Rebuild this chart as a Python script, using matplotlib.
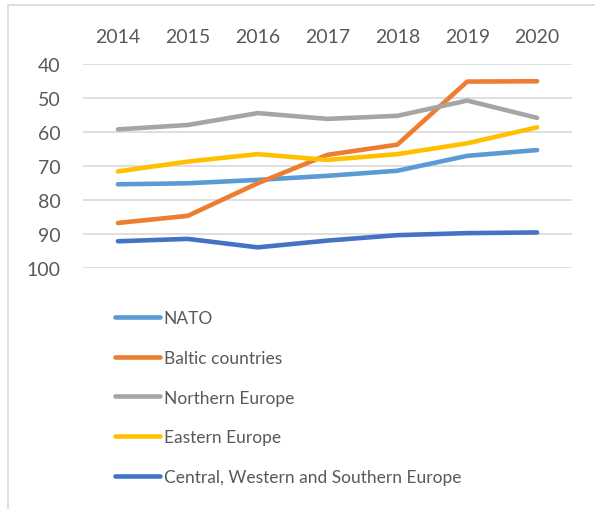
import matplotlib.pyplot as plt
from matplotlib.patches import Rectangle

years = ["2014", "2015", "2016", "2017", "2018", "2019", "2020"]

nato = [75.4, 75.1, 74.1, 72.9, 71.4, 67.0, 65.3]
baltic = [86.8, 84.7, 75.1, 66.7, 63.7, 45.1, 45.0]
northern = [59.2, 57.9, 54.4, 56.1, 55.2, 50.7, 55.8]
eastern = [71.6, 68.7, 66.5, 68.2, 66.5, 63.3, 58.6]
central = [92.2, 91.5, 94.0, 92.0, 90.4, 89.8, 89.6]

series = [
    ("NATO", nato, "#5B9BD5"),
    ("Baltic countries", baltic, "#ED7D31"),
    ("Northern Europe", northern, "#A5A5A5"),
    ("Eastern Europe", eastern, "#FFC000"),
    ("Central, Western and Southern Europe", central, "#4472C4"),
]

plt.rcParams['font.family'] = ['Lato', 'DejaVu Sans']
text_color = "#595959"

W, H = 595, 510
fig = plt.figure(figsize=(W / 100, H / 100), dpi=100)

# plot area (pixel positions)
left, right, top, bottom = 83, 572, 65.3, 268.7
ax = fig.add_axes([left / W, 1 - bottom / H, (right - left) / W, (bottom - top) / H])

x = range(len(years))
for name, vals, col in series:
    ax.plot(x, vals, color=col, lw=3.3, solid_capstyle='round', label=name, zorder=3)

ax.set_xlim(-0.5, len(years) - 0.5)
ax.set_ylim(100, 40)
ax.set_yticks(range(40, 101, 10))
ax.set_xticks(list(x))
ax.set_xticklabels(years)
ax.xaxis.tick_top()
ax.tick_params(axis='both', length=0, labelsize=14, colors=text_color)
ax.tick_params(axis='x', pad=14)
ax.tick_params(axis='y', pad=16)
ax.grid(axis='y', color="#D9D9D9", lw=1.2)
ax.set_axisbelow(True)
for s in ax.spines.values():
    s.set_visible(False)

leg = fig.legend(loc='upper left', bbox_to_anchor=(115 / W, 1 - 311 / H),
                 frameon=False, fontsize=12.5, handlelength=2.6,
                 handletextpad=0.2, labelspacing=1.37, borderpad=0,
                 borderaxespad=0)
for t in leg.get_texts():
    t.set_color(text_color)

# chart frame, cropped at right and bottom as in the screenshot
fig.add_artist(Rectangle((8 / W, -0.1), 1.2, 1.1 - 6 / H, transform=fig.transFigure,
                         fill=False, edgecolor="#D9D9D9", lw=1.2))

fig.savefig("out.png", dpi=100)
